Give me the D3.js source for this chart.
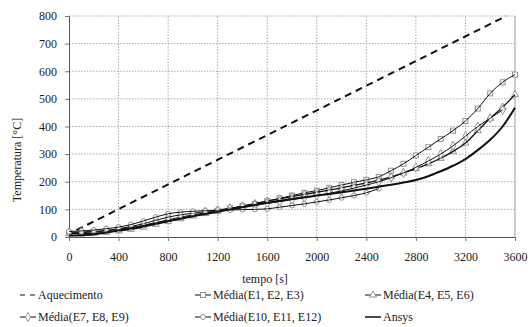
<!DOCTYPE html>
<html>
<head>
<meta charset="utf-8">
<script src="https://cdn.jsdelivr.net/npm/d3@7"></script>
<style>
  body { margin: 0; background: #fff; }
</style>
</head>
<body>
<div id="chart"></div>
<script>
// tempo [s] every 100 s
var times = d3.range(0, 3601, 100);

var aqTime = [60, 3530];
var aqTemp = [25, 800];

var e1Temp = [15,16,18,22,28,34,42,52,62,72,80,88,95,103,112,120,130,140,150,160,168,178,188,198,207,218,240,265,295,325,355,385,420,465,520,560,588];
var e4Temp = [12,12,14,17,22,28,36,46,56,66,76,85,94,103,112,121,130,138,146,154,162,170,178,187,196,206,218,232,248,265,285,310,340,385,430,470,515];
var e7Temp = [17,18,20,24,30,38,48,60,72,80,86,92,98,104,110,116,122,128,135,142,150,158,167,177,188,200,215,232,252,275,300,330,365,400,430,460];
var e10Temp = [20,22,25,30,36,45,58,72,84,90,93,95,97,98,99,100,102,108,114,120,127,134,142,150,160,175];
var ansysTemp = [5,6,10,16,24,32,40,49,58,66,75,83,91,100,108,116,124,131,138,144,150,156,162,168,175,182,189,197,206,220,238,258,282,315,352,400,468];

var xTicks = [0, 400, 800, 1200, 1600, 2000, 2400, 2800, 3200, 3600];
var yTicks = [0, 100, 200, 300, 400, 500, 600, 700, 800];

var serif = "Liberation Serif";

var w = 528, h = 327;
var svg = d3.select("#chart").append("svg")
    .attr("width", w)
    .attr("height", h)
    .attr("font-family", serif);

var x = d3.scaleLinear().domain([0, 3600]).range([69, 515]);
var y = d3.scaleLinear().domain([0, 800]).range([237, 16]);

// grid
svg.append("g").selectAll("line").data(yTicks.slice(1)).enter().append("line")
    .attr("x1", x(0)).attr("x2", x(3600))
    .attr("y1", function(d){ return y(d); }).attr("y2", function(d){ return y(d); })
    .style("stroke", "#aaa").style("stroke-dasharray", "1.5,1.5").style("stroke-width", 1);
svg.append("g").selectAll("line").data(xTicks.slice(1, -1)).enter().append("line")
    .attr("y1", y(0)).attr("y2", y(800))
    .attr("x1", function(d){ return x(d); }).attr("x2", function(d){ return x(d); })
    .style("stroke", "#aaa").style("stroke-dasharray", "1.5,1.5").style("stroke-width", 1);
svg.append("line")
    .attr("x1", x(3600)).attr("x2", x(3600)).attr("y1", y(0)).attr("y2", y(800))
    .style("stroke", "#999");

// axes
var xAxis = svg.append("g")
    .attr("transform", "translate(0," + y(0) + ")")
    .call(d3.axisBottom(x).tickValues(xTicks).tickSize(4).tickPadding(11).tickFormat(d3.format("d")));
var yAxis = svg.append("g")
    .attr("transform", "translate(" + x(0) + ",0)")
    .call(d3.axisLeft(y).tickValues(yTicks).tickSize(4).tickPadding(8));
[xAxis, yAxis].forEach(function(a){
    a.attr("font-family", serif).attr("font-size", 12);
    a.select(".domain").style("stroke", "#555");
    a.selectAll(".tick line").style("stroke", "#777");
    a.selectAll("text").attr("font-family", serif).style("fill", "#222");
});

svg.append("text")
    .attr("x", 265).attr("y", 283)
    .attr("text-anchor", "middle")
    .attr("font-family", serif).attr("font-size", 12).attr("fill", "#222")
    .text("tempo [s]");
svg.append("text")
    .attr("transform", "translate(21,160) rotate(-90)")
    .attr("text-anchor", "middle")
    .attr("font-family", serif).attr("font-size", 12).attr("fill", "#222")
    .text("Temperatura [°C]");

// markers
function marker(g, type, cx, cy) {
    var m;
    if (type == "square") {
        m = g.append("rect").attr("x", cx - 2.5).attr("y", cy - 2.5).attr("width", 5).attr("height", 5);
    } else if (type == "triangle") {
        m = g.append("path").attr("d", d3.symbol().type(d3.symbolTriangle).size(22)()).attr("transform", "translate(" + cx + "," + cy + ")");
    } else if (type == "diamond") {
        m = g.append("path").attr("d", d3.symbol().type(d3.symbolDiamond).size(24)()).attr("transform", "translate(" + cx + "," + cy + ")");
    } else if (type == "circle") {
        m = g.append("circle").attr("cx", cx).attr("cy", cy).attr("r", 2.5);
    } else {
        return;
    }
    m.style("fill", "#fff").style("stroke", "#888").style("stroke-width", 0.9);
}

var series = [
    { name: "Média(E1, E2, E3)", values: e1Temp, marker: "square", width: 1 },
    { name: "Média(E4, E5, E6)", values: e4Temp, marker: "triangle", width: 1.3 },
    { name: "Média(E7, E8, E9)", values: e7Temp, marker: "diamond", width: 1 },
    { name: "Média(E10, E11, E12)", values: e10Temp, marker: "circle", width: 1 },
    { name: "Ansys", values: ansysTemp, marker: null, width: 2 }
];

var line = d3.line()
    .x(function(d){ return x(d[0]); })
    .y(function(d){ return y(d[1]); })
    .curve(d3.curveMonotoneX);

// aquecimento
svg.append("path")
    .datum(d3.zip(aqTime, aqTemp))
    .attr("d", line)
    .style("fill", "none").style("stroke", "#111").style("stroke-width", 2)
    .style("stroke-dasharray", "7,5");

series.forEach(function(s){
    var pts = s.values.map(function(v, i){ return [times[i], v]; });
    var g = svg.append("g");
    if (s.marker) {
        pts.forEach(function(p){ marker(g, s.marker, x(p[0]), y(p[1])); });
    }
    svg.append("path")
        .datum(pts)
        .attr("d", line)
        .style("fill", "none").style("stroke", "#111").style("stroke-width", s.width);
});

// legend
var legendItems = [
    { name: "Aquecimento", marker: null, dash: "5,5", col: 0, row: 0 },
    { name: "Média(E1, E2, E3)", marker: "square", col: 1, row: 0 },
    { name: "Média(E4, E5, E6)", marker: "triangle", col: 2, row: 0 },
    { name: "Média(E7, E8, E9)", marker: "diamond", col: 0, row: 1 },
    { name: "Média(E10, E11, E12)", marker: "circle", col: 1, row: 1 },
    { name: "Ansys", marker: null, solid: true, col: 2, row: 1 }
];
var colX = [20, 195, 365];
var rowY = [299, 321];

legendItems.forEach(function(d){
    var lx = colX[d.col], ly = rowY[d.row] - 4;
    var g = svg.append("g");
    g.append("line")
        .attr("x1", lx).attr("x2", lx + 16).attr("y1", ly).attr("y2", ly)
        .style("stroke", "#111").style("stroke-width", d.solid ? 1.5 : 1)
        .style("stroke-dasharray", d.dash ? d.dash : null);
    if (d.marker) marker(g, d.marker, lx + 8, ly);
    svg.append("text")
        .attr("x", lx + 18).attr("y", rowY[d.row])
        .attr("font-family", serif).attr("font-size", 12).attr("fill", "#222")
        .text(d.name);
});
</script>
</body>
</html>
